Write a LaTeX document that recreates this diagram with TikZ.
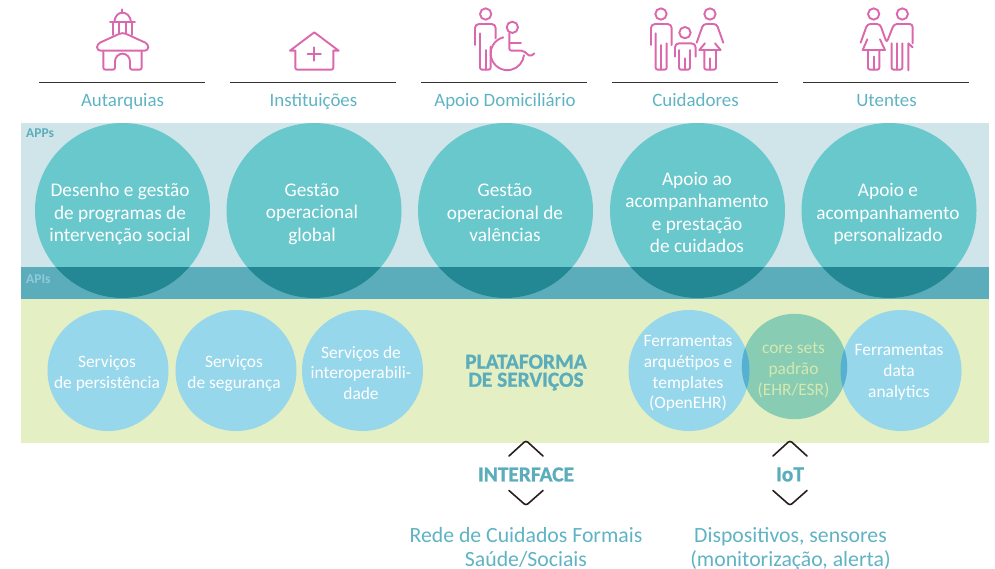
\documentclass[tikz,border=0pt]{standalone}
\usepackage{fontspec}
\setmainfont{Carlito}
\newfontfamily\heavyfont[BoldFeatures={FakeBold=1}]{Carlito}
\definecolor{appband}{HTML}{CFE5E9}
\definecolor{bigc}{HTML}{68C8CC}
\definecolor{apiband}{HTML}{5CADBB}
\definecolor{bigdark}{HTML}{248894}
\definecolor{greenband}{HTML}{E4EFC3}
\definecolor{bluec}{HTML}{97D7EB}
\definecolor{corec}{HTML}{88CCB4}
\definecolor{coreover}{HTML}{55B0D2}
\definecolor{coretext}{HTML}{D5E8B0}
\definecolor{pinkicon}{HTML}{DB68AC}
\definecolor{tealtext}{HTML}{5FB3C4}
\definecolor{apilabel}{HTML}{8DCBDA}
\definecolor{rulec}{HTML}{333333}
\definecolor{chev}{HTML}{2A1E1E}
\tikzset{
  x=1pt,y=-1pt,
  icon/.style={draw=pinkicon,line width=1.9pt,line join=round,line cap=round},
  hrule/.style={draw=rulec,line width=1pt},
  chevron/.style={draw=chev,line width=1.6pt,rounded corners=2.5pt,line cap=round},
  toplabel/.style={text=tealtext,font=\fontsize{18.9}{22}\selectfont,anchor=base},
  bigtext/.style={text=white,align=center,font=\fontsize{19.3}{22.5}\selectfont},
  smalltext/.style={text=white,align=center,font=\fontsize{17.4}{20.8}\selectfont},
  boldlabel/.style={text=apiband,align=center,font=\heavyfont\bfseries\fontsize{21.4}{18}\selectfont},
  bottomtext/.style={text=tealtext,align=center,font=\fontsize{21.75}{24}\selectfont},
  bandtag/.style={font=\bfseries\fontsize{13.5}{13}\selectfont,anchor=west,inner sep=0pt},
}
\begin{document}
\begin{tikzpicture}
\useasboundingbox (0,0) rectangle (995,568);
% bands
\fill[appband] (21,123) rectangle (989,267);
\fill[apiband] (21,267) rectangle (989,299);
\fill[greenband] (21,299) rectangle (989,443);
% big circles
\foreach \cx in {122.5,314,505.5,697.5,889}{
  \fill[bigc] (\cx,210.5) circle[radius=87.5];
  \begin{scope}
    \clip (21,267) rectangle (989,299);
    \fill[bigdark] (\cx,210.5) circle[radius=87.5];
  \end{scope}
}
\node[bandtag,text=apiband] (apps) at (26,133.5) {APPs};
\node[bandtag,text=apilabel] (apis) at (26,279) {APIs};
\node[bigtext] (b1) at (120,214) {Desenho e gestão\\de programas de\\intervenção social};
\node[bigtext] (b2) at (312,214) {Gestão\\operacional\\global};
\node[bigtext] (b3) at (505,213) {Gestão\\operacional de\\valências};
\node[bigtext] (b4) at (697,212.5) {Apoio ao\\acompanhamento\\e prestação\\de cuidados};
\node[bigtext] (b5) at (888,214) {Apoio e\\acompanhamento\\personalizado};
% small circles
\foreach \cx in {108,236,362.5,689,901}{
  \fill[bluec] (\cx,370.5) circle[radius=60.5];
}
\fill[corec] (794.5,366.5) circle[radius=52.7];
\begin{scope}
  \clip (794.5,366.5) circle[radius=52.7];
  \fill[coreover] (689,370.5) circle[radius=60.5];
  \fill[coreover] (901,370.5) circle[radius=60.5];
\end{scope}
\node[smalltext] (s1) at (107,373.5) {Serviços\\de persistência};
\node[smalltext] (s2) at (234,373.5) {Serviços\\de segurança};
\node[smalltext] (s3) at (361,373) {Serviços de\\interoperabili-\\dade};
\node[smalltext] (s4) at (688,373.5) {Ferramentas\\arquétipos e\\templates\\(OpenEHR)};
\node[smalltext,text=coretext] (s5) at (793.5,370) {core sets\\padrão\\(EHR/ESR)};
\node[smalltext] (s6) at (899,372.5) {Ferramentas\\data\\analytics};
\node[boldlabel] (plat) at (526,372.5) {PLATAFORMA\\DE SERVIÇOS};
% top rules and labels
\foreach \xa/\nm/\txt/\tx in {39/l1/Autarquias/122.5,230/l2/Instituições/313.5,421/l3/Apoio Domiciliário/505,612/l4/Cuidadores/695.5,803/l5/Utentes/886.5}{
  \draw[hrule] (\xa,82) -- (\xa+166,82);
  \node[toplabel] (\nm) at (\tx,106) {\txt};
}
% chevrons and bottom text
\foreach \cx in {526,790}{
  \draw[chevron] (\cx-17,456) -- (\cx,440.5) -- (\cx+17,456);
  \draw[chevron] (\cx-17,490.5) -- (\cx,505.5) -- (\cx+17,490.5);
}
\node[boldlabel] (intf) at (526,474.5) {INTERFACE};
\node[boldlabel] (iot) at (790,474.5) {IoT};
\node[bottomtext] (r1) at (526,547) {Rede de Cuidados Formais\\Saúde/Sociais};
\node[bottomtext] (r2) at (790.5,548.5) {Dispositivos, sensores\\(monitorização, alerta)};
% icon: Autarquias
\begin{scope}[shift={(60,0)},x=0.3333pt,y=-0.3333pt]
  \draw[icon] (187,28) -- (187,38);
  \draw[icon] (163,65) .. controls (165,48) and (175,38) .. (187,38) .. controls (200,38) and (211,48) .. (213,65);
  \draw[icon] (150,66) -- (225,66);
  \draw[icon] (160,66) -- (160,105) (215,66) -- (215,105) (178,70) -- (178,100) (197,70) -- (197,100);
  \draw[icon,rounded corners=3.5pt] (188,97) -- (111,132) -- (111,152) -- (265,152) -- (265,132) -- cycle;
  \draw[icon,rounded corners=2pt] (130,155) -- (130,209) -- (165,209) -- (165,185);
  \draw[icon] (165,185) arc[start angle=180,end angle=0,x radius=22.5,y radius=-24];
  \draw[icon,rounded corners=2pt] (210,185) -- (210,209) -- (245,209) -- (245,155);
  % icon: Instituicoes
  \draw[icon,rounded corners=2pt] (706,152) -- (706,209) -- (820,209) -- (820,152);
  \draw[icon] (690,152) -- (763,97) -- (836,152) (690,152) -- (706,152) (820,152) -- (836,152);
  \draw[icon] (743,162) -- (783,162) (763,142) -- (763,182);
\end{scope}
% icon: Apoio + Cuidadores
\begin{scope}[shift={(440,0)},x=0.3333pt,y=-0.3333pt]
  \draw[icon] (137,42) circle[radius=17];
  \draw[icon,rounded corners=4pt] (105,135) -- (105,72) -- (167,72) -- (167,115);
  \draw[icon,rounded corners=2pt] (120,100) -- (120,209) -- (152,209) -- (152,140);
  \draw[icon] (137,150) -- (137,209);
  \draw[icon] (217,82) circle[radius=17];
  \draw[icon,rounded corners=2pt] (208,100) -- (208,152) -- (250,152) -- (271,170) -- (283,160);
  \draw[icon] (208,128) -- (243,128);
  \draw[icon] (190,112) arc[start angle=-104,end angle=-354,radius=50];
  % family
  \draw[icon] (663,42) circle[radius=17];
  \draw[icon,rounded corners=4pt] (633,135) -- (633,72) -- (695,72) -- (695,135);
  \draw[icon,rounded corners=2pt] (647,100) -- (647,209) -- (680,209) -- (680,130);
  \draw[icon] (663,135) -- (663,209);
  \draw[icon] (735,98) circle[radius=17];
  \draw[icon,rounded corners=4pt] (705,170) -- (705,130) -- (767,130) -- (767,170);
  \draw[icon,rounded corners=2pt] (717,150) -- (717,209) -- (750,209) -- (750,150);
  \draw[icon] (735,175) -- (735,209);
  \draw[icon] (810,42) circle[radius=17];
  \draw[icon,rounded corners=3pt] (770,128) -- (790,72) -- (830,72) -- (850,128);
  \draw[icon] (795,130) -- (778,150) -- (842,150) -- (825,130);
  \draw[icon,rounded corners=2pt] (793,150) -- (793,209) -- (828,209) -- (828,150);
  \draw[icon] (810,175) -- (810,209);
\end{scope}
% icon: Utentes
\begin{scope}[shift={(780,0)},x=0.3333pt,y=-0.3333pt]
  \draw[icon] (281,42) circle[radius=17];
  \draw[icon] (367,42) circle[radius=17];
  \draw[icon,rounded corners=3pt] (242,128) -- (262,72) -- (300,72) -- (320,128) -- (342,72) -- (398,72) -- (398,130);
  \draw[icon] (262,118) -- (248,150) -- (315,150) -- (300,118);
  \draw[icon,rounded corners=2pt] (264,150) -- (264,209) -- (298,209) -- (298,150);
  \draw[icon] (281,170) -- (281,209);
  \draw[icon,rounded corners=2pt] (335,130) -- (335,209) -- (367,209) -- (367,130);
  \draw[icon] (351,130) -- (351,209);
  \draw[icon] (398,142) -- (385,130) -- (385,211);
\end{scope}
\end{tikzpicture}
\end{document}
